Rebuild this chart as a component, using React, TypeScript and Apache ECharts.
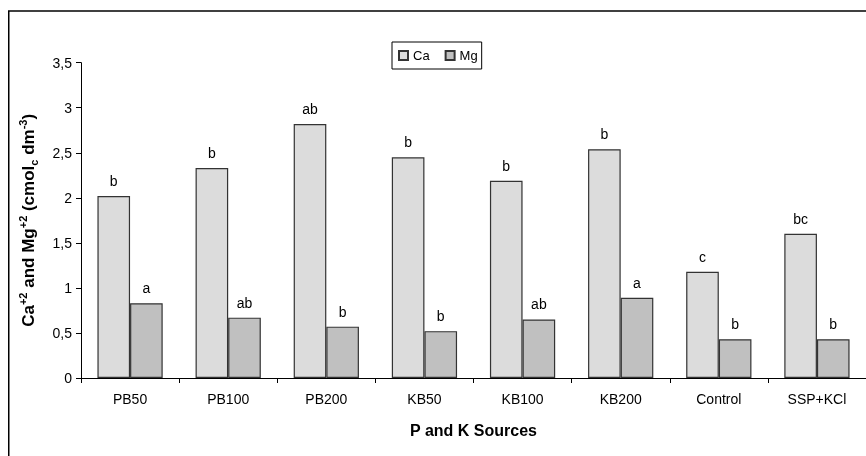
import React, { useEffect, useRef } from "react";
import * as echarts from "echarts";

const categories = ["PB50", "PB100", "PB200", "KB50", "KB100", "KB200", "Control", "SSP+KCl"];
const caValues = [2.02, 2.33, 2.82, 2.45, 2.19, 2.54, 1.18, 1.6];
const mgValues = [0.83, 0.67, 0.57, 0.52, 0.65, 0.89, 0.43, 0.43];
const caLetters = ["b", "b", "ab", "b", "b", "b", "c", "bc"];
const mgLetters = ["a", "ab", "b", "b", "ab", "a", "b", "b"];
const yTicks = { min: 0, max: 3.5, interval: 0.5 };

const FONT = "'Liberation Sans', Arial, sans-serif";

export default function App() {
  const ref = useRef<HTMLDivElement>(null);
  useEffect(() => {
    const chart = echarts.init(ref.current!, null, { renderer: "svg" });
    chart.setOption({
      animation: false,
      textStyle: { fontFamily: FONT, color: "#000" },
      graphic: [
        {
          type: "line",
          shape: { x1: 0.75, y1: 3, x2: 0.75, y2: 460 },
          style: { stroke: "#000", lineWidth: 1.5 },
          silent: true,
        },
        {
          type: "line",
          shape: { x1: 0, y1: 3, x2: 858, y2: 3 },
          style: { stroke: "#000", lineWidth: 1.5 },
          silent: true,
        },
      ],
      legend: {
        left: 384,
        top: 34,
        padding: [7, 4, 7, 6],
        itemWidth: 9,
        itemHeight: 9,
        itemGap: 15,
        icon: "rect",
        borderColor: "#000",
        borderWidth: 1,
        textStyle: { fontSize: 13, color: "#000", fontFamily: FONT },
        data: ["Ca", "Mg"],
      },
      grid: { left: 73, right: -4.4, top: 54.7, bottom: 78, containLabel: false },
      xAxis: {
        type: "category",
        data: categories,
        name: "P and K Sources",
        nameLocation: "middle",
        nameGap: 44,
        nameTextStyle: { fontSize: 16, fontWeight: "bold", color: "#000", fontFamily: FONT },
        axisLine: { lineStyle: { color: "#000", width: 1 } },
        axisTick: { show: true, length: 5, lineStyle: { color: "#000" } },
        axisLabel: { fontSize: 14, color: "#000", margin: 14, fontFamily: FONT },
      },
      yAxis: {
        type: "value",
        min: yTicks.min,
        max: yTicks.max,
        interval: yTicks.interval,
        name:
          "{b|Ca}{sup|+2}{b| and Mg}{sup|+2}{b| (cmol}{sub|c}{b| dm}{sup|-3}{b|)}",
        nameLocation: "middle",
        nameGap: 42,
        nameTextStyle: {
          fontFamily: FONT,
          rich: {
            b: { fontSize: 17, fontWeight: "bold", color: "#000", lineHeight: 22, verticalAlign: "middle", fontFamily: FONT },
            sup: { fontSize: 11, fontWeight: "bold", color: "#000", lineHeight: 11, verticalAlign: "top", fontFamily: FONT },
            sub: { fontSize: 11, fontWeight: "bold", color: "#000", lineHeight: 9, verticalAlign: "bottom", fontFamily: FONT },
          },
        },
        axisLine: { show: true, lineStyle: { color: "#000", width: 1 } },
        axisTick: { show: true, length: 5, lineStyle: { color: "#000" } },
        splitLine: { show: false },
        axisLabel: {
          fontSize: 14,
          color: "#000",
          margin: 9,
          fontFamily: FONT,
          formatter: (v: number) => String(v).replace(".", ","),
        },
      },
      series: [
        {
          name: "Ca",
          type: "bar",
          data: caValues,
          barGap: "0%",
          barCategoryGap: "33.5%",
          itemStyle: { color: "#DCDCDC", borderColor: "#333", borderWidth: 1.2 },
          label: {
            show: true,
            position: "top",
            distance: 8,
            fontSize: 14,
            color: "#000",
            fontFamily: FONT,
            formatter: (p: any) => caLetters[p.dataIndex],
          },
        },
        {
          name: "Mg",
          type: "bar",
          data: mgValues,
          barGap: "0%",
          barCategoryGap: "33.5%",
          itemStyle: { color: "#C0C0C0", borderColor: "#333", borderWidth: 1.2 },
          label: {
            show: true,
            position: "top",
            distance: 8,
            fontSize: 14,
            color: "#000",
            fontFamily: FONT,
            formatter: (p: any) => mgLetters[p.dataIndex],
          },
        },
      ],
    });
    return () => chart.dispose();
  }, []);
  return (
    <div
      ref={ref}
      style={{ position: "fixed", left: 8, top: 8, width: 858, height: 448 }}
    />
  );
}
